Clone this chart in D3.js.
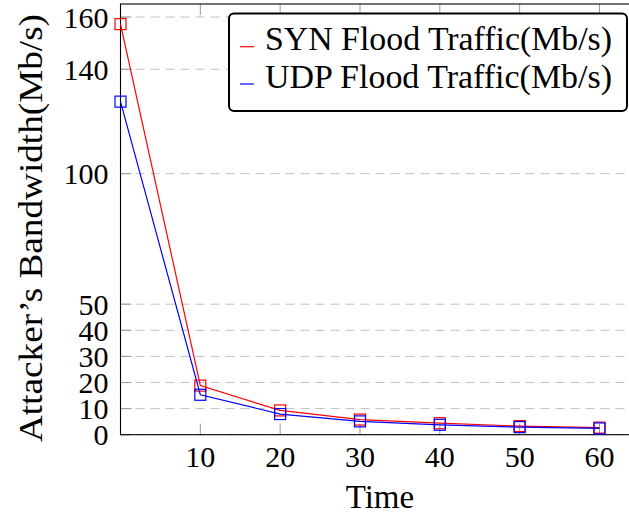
<!DOCTYPE html>
<html>
<head>
<meta charset="utf-8">
<script src="https://cdn.jsdelivr.net/npm/d3@7"></script>
<style>
  body { margin: 0; background: #fff; }
</style>
</head>
<body>
<div id="chart"></div>
<script>
// data
var times = [0, 10, 20, 30, 40, 50, 60];
var synFlood = [157.3, 18.8, 9.3, 5.8, 4.4, 3.3, 2.7];
var udpFlood = [127.6, 15.3, 7.9, 5.1, 3.8, 2.9, 2.4];
var seriesNames = ["SYN Flood Traffic(Mb/s)", "UDP Flood Traffic(Mb/s)"];
var seriesColors = ["#ff0000", "#0000ff"];
var xTicks = [10, 20, 30, 40, 50, 60];
var yTicks = [0, 10, 20, 30, 40, 50, 100, 140, 160];

var width = 629, height = 515;
var plot = {left: 120.5, right: 639.4, top: 4, bottom: 434.7};
var fontFamily = "'Liberation Serif', 'DejaVu Serif', serif";
var fontSize = 33, tickFontSize = 30;

var svg = d3.select("#chart").append("svg")
	.attr("width", width)
	.attr("height", height)
	.attr("font-family", fontFamily);

var x = d3.scaleLinear().domain([0, 65]).range([plot.left, plot.right]);
var y = d3.scaleLinear().domain([0, 165]).range([plot.bottom, plot.top]);

//grid lines (dashed, light grey)
svg.append("g").selectAll("line")
	.data(yTicks)
	.enter().append("line")
	.attr("x1", plot.left).attr("x2", plot.right)
	.attr("y1", function(d) { return y(d); })
	.attr("y2", function(d) { return y(d); })
	.style("stroke", "#c0c0c0")
	.style("stroke-width", 1)
	.style("stroke-dasharray", "9,6");

//tick marks inside the box, grey
var ticks = svg.append("g").style("stroke", "#999").style("stroke-width", 1);
xTicks.forEach(function(t) {
	ticks.append("line").attr("x1", x(t)).attr("x2", x(t)).attr("y1", plot.bottom).attr("y2", plot.bottom - 11);
	ticks.append("line").attr("x1", x(t)).attr("x2", x(t)).attr("y1", plot.top).attr("y2", plot.top + 11);
});
yTicks.forEach(function(t) {
	ticks.append("line").attr("x1", plot.left).attr("x2", plot.left + 11).attr("y1", y(t)).attr("y2", y(t));
});

//axis box
svg.append("rect")
	.attr("x", plot.left).attr("y", plot.top)
	.attr("width", plot.right - plot.left)
	.attr("height", plot.bottom - plot.top)
	.style("fill", "none")
	.style("stroke", "#000")
	.style("stroke-width", 1.1);

//tick labels
svg.append("g").selectAll("text")
	.data(xTicks)
	.enter().append("text")
	.attr("x", function(d) { return x(d); })
	.attr("y", 466.7)
	.attr("text-anchor", "middle")
	.attr("font-family", fontFamily)
	.style("font-size", tickFontSize + "px")
	.text(function(d) { return d; });

svg.append("g").selectAll("text")
	.data(yTicks)
	.enter().append("text")
	.attr("x", 108.5)
	.attr("y", function(d) { return y(d) + 10.5; })
	.attr("text-anchor", "end")
	.attr("font-family", fontFamily)
	.style("font-size", tickFontSize + "px")
	.text(function(d) { return d; });

//axis titles
svg.append("text")
	.attr("x", (plot.left + plot.right) / 2)
	.attr("y", 508)
	.attr("text-anchor", "middle")
	.attr("font-family", fontFamily)
	.style("font-size", fontSize + "px")
	.text("Time");

svg.append("text")
	.attr("transform", "translate(42," + 228 + ") rotate(-90)")
	.attr("text-anchor", "middle")
	.attr("font-family", fontFamily)
	.attr("textLength", 428)
	.attr("lengthAdjust", "spacingAndGlyphs")
	.style("font-size", fontSize + "px")
	.text("Attacker\u2019s Bandwidth(Mb/s)");

//lines and square markers
var line = d3.line()
	.x(function(d) { return x(d[0]); })
	.y(function(d) { return y(d[1]); });

[synFlood, udpFlood].forEach(function(vals, k) {
	var pts = times.map(function(t, i) { return [t, vals[i]]; });
	var g = svg.append("g");
	g.append("path")
		.attr("d", line(pts))
		.style("fill", "none")
		.style("stroke", seriesColors[k])
		.style("stroke-width", 1.2);
	g.selectAll("rect")
		.data(pts)
		.enter().append("rect")
		.attr("x", function(d) { return x(d[0]) - 5.5; })
		.attr("y", function(d) { return y(d[1]) - 5.5; })
		.attr("width", 11).attr("height", 11)
		.style("fill", "none")
		.style("stroke", seriesColors[k])
		.style("stroke-width", 1.2);
});

//legend
var legend = svg.append("g");
legend.append("rect")
	.attr("x", 229).attr("y", 13.5)
	.attr("width", 398).attr("height", 97.5)
	.attr("rx", 5).attr("ry", 5)
	.style("fill", "#fff")
	.style("stroke", "#000")
	.style("stroke-width", 2);

var legendY = [46.7, 84];
seriesNames.forEach(function(name, k) {
	legend.append("line")
		.attr("x1", 240).attr("x2", 254)
		.attr("y1", legendY[k]).attr("y2", legendY[k])
		.style("stroke", seriesColors[k])
		.style("stroke-width", 1.2);
	legend.append("text")
		.attr("x", 265)
		.attr("y", legendY[k] + 3.5)
		.attr("font-family", fontFamily)
		.attr("textLength", 347)
		.attr("lengthAdjust", "spacingAndGlyphs")
		.style("font-size", fontSize + "px")
		.text(name);
});
</script>
</body>
</html>
